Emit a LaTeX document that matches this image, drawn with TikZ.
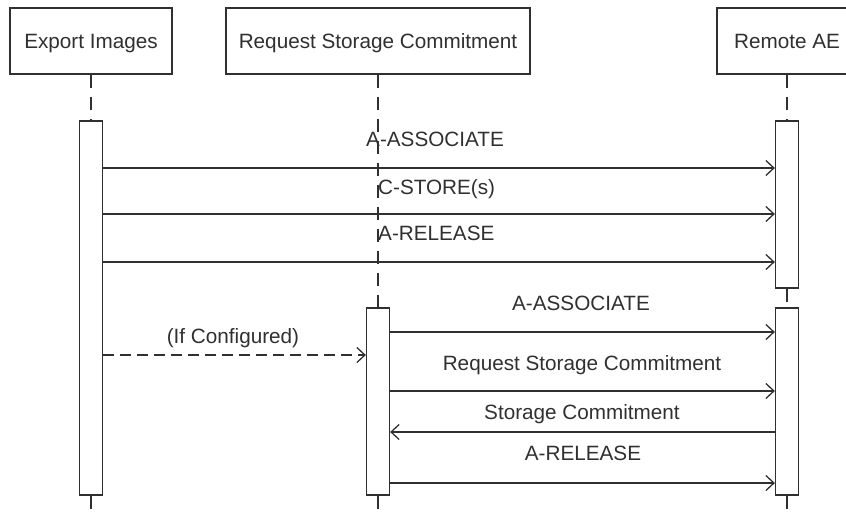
\documentclass[tikz,border=0pt]{standalone}
\usepackage{fontspec}
\setmainfont{Liberation Sans}
\usetikzlibrary{arrows.meta}
\definecolor{ink}{HTML}{303030}
\begin{document}
\begin{tikzpicture}[x=1pt,y=-1pt,
  font=\fontsize{20.7}{24}\selectfont,
  hdr/.style={draw=ink, line width=1.6pt, fill=white, text=ink, minimum height=66pt, inner sep=0pt, text height=14.8pt, text depth=0pt},
  act/.style={draw=ink, line width=1.3pt, fill=white, minimum width=23pt, inner sep=0pt},
  life/.style={draw=ink, line width=1.3pt, dash pattern=on 13pt off 9pt},
  msg/.style={draw=ink, line width=1.3pt, -{Straight Barb[length=8pt,width=15pt,line width=1.3pt]}},
  lbl/.style={text=ink, inner sep=0pt}]
\useasboundingbox (0,0) rectangle (846,515);
% headers
\node[hdr, minimum width=162pt] (hE) at (91,41) {Export Images};
\node[hdr, minimum width=304pt] (hR) at (378,41) {Request Storage Commitment};
\node[hdr, minimum width=140pt] (hA) at (787,41) {Remote AE};
% activations
\node[act, minimum height=374pt] (eAct) at (91,308) {};
\node[act, minimum height=187pt] (qAct) at (378,401.5) {};
\node[act, minimum height=167pt] (rAct1) at (787,204.5) {};
\node[act, minimum height=187pt] (rAct2) at (787,401.5) {};
% lifeline ends
\coordinate (eEnd) at (91,518);
\coordinate (qEnd) at (378,518);
\coordinate (rEnd) at (787,518);
% lifelines
\draw[life] (hE.south) -- (eAct.north);
\draw[life] (eAct.south) -- (eEnd);
\draw[life] (hR.south) -- (qAct.north);
\draw[life] (qAct.south) -- (qEnd);
\draw[life] (hA.south) -- (rAct1.north);
\draw[life] (rAct1.south) -- (rAct2.north);
\draw[life] (rAct2.south) -- (rEnd);
% messages
\draw[msg] (eAct.east |- 0,168) -- (rAct1.west |- 0,168);
\draw[msg] (eAct.east |- 0,214) -- (rAct1.west |- 0,214);
\draw[msg] (eAct.east |- 0,262) -- (rAct1.west |- 0,262);
\draw[msg, dash pattern=on 11pt off 6pt] (eAct.east |- 0,355) -- (qAct.west |- 0,355);
\draw[msg] (qAct.east |- 0,332) -- (rAct2.west |- 0,332);
\draw[msg] (qAct.east |- 0,391) -- (rAct2.west |- 0,391);
\draw[msg] (rAct2.west |- 0,432) -- (qAct.east |- 0,432);
\draw[msg] (qAct.east |- 0,483) -- (rAct2.west |- 0,483);
% labels
\node[lbl, anchor=base west] (l1) at (366,146) {A-ASSOCIATE};
\node[lbl, anchor=base west] (l2) at (378,194) {C-STORE(s)};
\node[lbl, anchor=base west] (l3) at (378,240) {A-RELEASE};
\node[lbl, anchor=base] (l4) at (233,343) {(If Configured)};
\node[lbl, anchor=base] (l5) at (581,310) {A-ASSOCIATE};
\node[lbl, anchor=base] (l6) at (582,370) {Request Storage Commitment};
\node[lbl, anchor=base] (l7) at (582,419) {Storage Commitment};
\node[lbl, anchor=base] (l8) at (583,460) {A-RELEASE};
\end{tikzpicture}
\end{document}
